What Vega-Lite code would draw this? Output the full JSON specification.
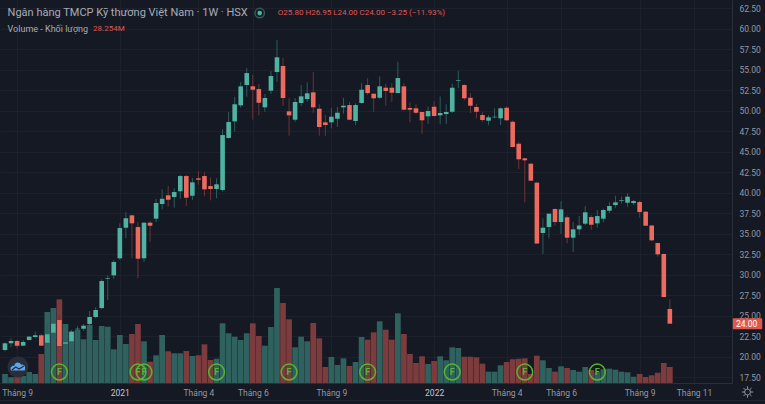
{"$schema":"https://vega.github.io/schema/vega-lite/v6.json","width":732,"height":383,"autosize":"none","padding":{"left":0,"top":0,"right":33,"bottom":21},"background":"#151924","config":{"view":{"stroke":null},"font":"Roboto","axis":{"labelOverlap":false}},
"datasets":{
"candles":[
{"date":"2020-08-24","open":20.79,"high":21.73,"low":20.63,"close":21.61,"volume":15.9,"dir":"up"},
{"date":"2020-08-31","open":21.61,"high":22.22,"low":21.12,"close":21.89,"volume":10.1,"dir":"up"},
{"date":"2020-09-07","open":21.89,"high":22.01,"low":21.00,"close":21.32,"volume":11.1,"dir":"down"},
{"date":"2020-09-14","open":21.32,"high":22.01,"low":21.28,"close":21.77,"volume":12.4,"dir":"up"},
{"date":"2020-09-21","open":22.01,"high":22.50,"low":21.98,"close":22.42,"volume":19.4,"dir":"up"},
{"date":"2020-09-28","open":22.38,"high":23.03,"low":22.29,"close":22.59,"volume":15.9,"dir":"up"},
{"date":"2020-10-05","open":22.59,"high":22.80,"low":21.28,"close":21.32,"volume":51.2,"dir":"down"},
{"date":"2020-10-12","open":21.68,"high":23.84,"low":21.20,"close":22.71,"volume":125.4,"dir":"up"},
{"date":"2020-10-19","open":22.90,"high":24.45,"low":22.26,"close":24.00,"volume":132.5,"dir":"up"},
{"date":"2020-10-26","open":24.45,"high":25.06,"low":21.16,"close":21.28,"volume":147.8,"dir":"down"},
{"date":"2020-11-02","open":21.56,"high":22.75,"low":21.28,"close":21.73,"volume":104.2,"dir":"up"},
{"date":"2020-11-09","open":21.85,"high":23.23,"low":21.68,"close":23.03,"volume":90.6,"dir":"up"},
{"date":"2020-11-16","open":23.32,"high":23.72,"low":22.90,"close":23.39,"volume":93.6,"dir":"up"},
{"date":"2020-11-23","open":23.39,"high":23.96,"low":23.15,"close":23.76,"volume":77.2,"dir":"up"},
{"date":"2020-11-30","open":23.96,"high":25.55,"low":23.84,"close":24.82,"volume":102.4,"dir":"up"},
{"date":"2020-12-07","open":24.82,"high":26.00,"low":24.66,"close":25.67,"volume":75.9,"dir":"up"},
{"date":"2020-12-14","open":25.91,"high":29.42,"low":25.76,"close":29.21,"volume":100.7,"dir":"up"},
{"date":"2020-12-21","open":29.49,"high":29.90,"low":26.89,"close":29.57,"volume":99.4,"dir":"up"},
{"date":"2020-12-28","open":29.90,"high":31.77,"low":29.49,"close":31.53,"volume":59.5,"dir":"up"},
{"date":"2021-01-04","open":31.98,"high":36.24,"low":31.77,"close":35.67,"volume":84.8,"dir":"up"},
{"date":"2021-01-11","open":35.71,"high":37.59,"low":34.45,"close":36.85,"volume":68.9,"dir":"up"},
{"date":"2021-01-18","open":37.22,"high":37.29,"low":31.98,"close":36.24,"volume":86.5,"dir":"down"},
{"date":"2021-01-25","open":35.79,"high":36.37,"low":29.57,"close":31.93,"volume":104.2,"dir":"down"},
{"date":"2021-02-01","open":31.98,"high":36.40,"low":31.53,"close":36.32,"volume":73.6,"dir":"up"},
{"date":"2021-02-08","open":36.32,"high":36.53,"low":33.96,"close":35.95,"volume":37.6,"dir":"down"},
{"date":"2021-02-15","open":36.81,"high":39.21,"low":36.40,"close":38.72,"volume":48.9,"dir":"up"},
{"date":"2021-02-22","open":38.60,"high":40.39,"low":37.95,"close":39.24,"volume":84.8,"dir":"up"},
{"date":"2021-03-01","open":39.66,"high":40.79,"low":38.27,"close":39.12,"volume":56,"dir":"down"},
{"date":"2021-03-08","open":39.45,"high":40.51,"low":38.15,"close":40.06,"volume":52.5,"dir":"up"},
{"date":"2021-03-15","open":40.15,"high":42.17,"low":39.24,"close":42.01,"volume":52.5,"dir":"up"},
{"date":"2021-03-22","open":42.01,"high":42.13,"low":38.35,"close":39.37,"volume":56.5,"dir":"down"},
{"date":"2021-03-29","open":39.61,"high":41.77,"low":39.09,"close":41.24,"volume":47.7,"dir":"up"},
{"date":"2021-04-05","open":41.73,"high":42.59,"low":40.95,"close":41.56,"volume":48.9,"dir":"down"},
{"date":"2021-04-12","open":42.01,"high":42.46,"low":39.57,"close":40.39,"volume":68.3,"dir":"down"},
{"date":"2021-04-19","open":40.79,"high":41.85,"low":39.05,"close":40.43,"volume":40.6,"dir":"down"},
{"date":"2021-04-26","open":40.43,"high":41.73,"low":39.29,"close":41.00,"volume":42.9,"dir":"up"},
{"date":"2021-05-03","open":40.31,"high":47.74,"low":40.10,"close":47.01,"volume":105.4,"dir":"up"},
{"date":"2021-05-10","open":46.65,"high":49.82,"low":46.61,"close":48.60,"volume":87.8,"dir":"up"},
{"date":"2021-05-17","open":48.68,"high":51.65,"low":47.42,"close":50.76,"volume":81.8,"dir":"up"},
{"date":"2021-05-24","open":50.63,"high":53.48,"low":50.34,"close":52.95,"volume":75.9,"dir":"up"},
{"date":"2021-05-31","open":53.11,"high":55.18,"low":51.68,"close":54.57,"volume":87.8,"dir":"up"},
{"date":"2021-06-07","open":52.95,"high":54.33,"low":48.88,"close":52.54,"volume":105.4,"dir":"down"},
{"date":"2021-06-14","open":52.62,"high":53.23,"low":49.41,"close":50.95,"volume":83,"dir":"down"},
{"date":"2021-06-21","open":50.39,"high":52.01,"low":49.85,"close":51.53,"volume":65.9,"dir":"up"},
{"date":"2021-06-28","open":52.42,"high":54.82,"low":52.01,"close":54.21,"volume":98.9,"dir":"up"},
{"date":"2021-07-05","open":54.70,"high":58.60,"low":53.51,"close":56.49,"volume":167.8,"dir":"up"},
{"date":"2021-07-12","open":55.43,"high":56.44,"low":50.55,"close":51.53,"volume":141.3,"dir":"down"},
{"date":"2021-07-19","open":49.90,"high":51.49,"low":46.93,"close":49.41,"volume":112.5,"dir":"down"},
{"date":"2021-07-26","open":48.88,"high":51.53,"low":48.60,"close":51.04,"volume":63,"dir":"up"},
{"date":"2021-08-02","open":50.92,"high":53.11,"low":50.55,"close":51.73,"volume":81.8,"dir":"up"},
{"date":"2021-08-09","open":51.40,"high":53.44,"low":51.04,"close":52.10,"volume":73.6,"dir":"up"},
{"date":"2021-08-16","open":52.22,"high":54.70,"low":49.73,"close":50.39,"volume":106,"dir":"down"},
{"date":"2021-08-23","open":50.22,"high":50.76,"low":46.93,"close":47.99,"volume":78.9,"dir":"down"},
{"date":"2021-08-30","open":48.56,"high":49.45,"low":46.93,"close":48.23,"volume":28.3,"dir":"down"},
{"date":"2021-09-06","open":48.56,"high":50.34,"low":47.83,"close":49.24,"volume":45.9,"dir":"up"},
{"date":"2021-09-13","open":49.00,"high":50.43,"low":47.99,"close":49.73,"volume":31.8,"dir":"up"},
{"date":"2021-09-20","open":50.39,"high":51.56,"low":49.61,"close":50.59,"volume":43.6,"dir":"up"},
{"date":"2021-09-27","open":50.67,"high":51.07,"low":48.81,"close":48.88,"volume":30,"dir":"down"},
{"date":"2021-10-04","open":48.72,"high":50.88,"low":48.23,"close":50.67,"volume":37.1,"dir":"up"},
{"date":"2021-10-11","open":50.92,"high":53.35,"low":50.83,"close":52.54,"volume":81.2,"dir":"up"},
{"date":"2021-10-18","open":53.11,"high":53.96,"low":51.89,"close":52.13,"volume":76.5,"dir":"down"},
{"date":"2021-10-25","open":52.05,"high":52.10,"low":49.85,"close":51.49,"volume":89.5,"dir":"down"},
{"date":"2021-11-01","open":51.56,"high":54.17,"low":51.40,"close":52.95,"volume":109,"dir":"up"},
{"date":"2021-11-08","open":52.78,"high":53.27,"low":50.59,"close":52.38,"volume":94.1,"dir":"down"},
{"date":"2021-11-15","open":52.78,"high":53.35,"low":51.07,"close":52.17,"volume":76.5,"dir":"down"},
{"date":"2021-11-22","open":52.13,"high":55.95,"low":52.13,"close":53.96,"volume":123.1,"dir":"up"},
{"date":"2021-11-29","open":52.95,"high":53.35,"low":50.03,"close":50.10,"volume":86.5,"dir":"down"},
{"date":"2021-12-06","open":50.31,"high":51.00,"low":48.56,"close":50.10,"volume":51.2,"dir":"down"},
{"date":"2021-12-13","open":50.27,"high":50.76,"low":49.61,"close":49.73,"volume":35.3,"dir":"down"},
{"date":"2021-12-20","open":49.82,"high":49.82,"low":47.17,"close":48.81,"volume":47.2,"dir":"down"},
{"date":"2021-12-27","open":49.29,"high":50.46,"low":48.39,"close":49.94,"volume":33.6,"dir":"up"},
{"date":"2022-01-03","open":50.46,"high":51.16,"low":49.29,"close":49.33,"volume":38.9,"dir":"down"},
{"date":"2022-01-10","open":49.41,"high":51.73,"low":48.32,"close":49.70,"volume":47.2,"dir":"up"},
{"date":"2022-01-17","open":49.57,"high":50.76,"low":48.35,"close":49.82,"volume":40.1,"dir":"up"},
{"date":"2022-01-24","open":49.85,"high":53.27,"low":49.70,"close":52.78,"volume":63,"dir":"up"},
{"date":"2022-01-31","open":53.60,"high":54.82,"low":52.71,"close":53.68,"volume":61.8,"dir":"up"},
{"date":"2022-02-07","open":53.11,"high":53.20,"low":51.24,"close":51.49,"volume":46.4,"dir":"down"},
{"date":"2022-02-14","open":51.56,"high":52.13,"low":49.70,"close":50.59,"volume":46.4,"dir":"down"},
{"date":"2022-02-21","open":50.43,"high":50.83,"low":49.05,"close":49.85,"volume":45.4,"dir":"down"},
{"date":"2022-02-28","open":49.45,"high":49.78,"low":48.60,"close":48.84,"volume":34.1,"dir":"down"},
{"date":"2022-03-07","open":48.76,"high":49.45,"low":48.23,"close":49.17,"volume":20,"dir":"up"},
{"date":"2022-03-14","open":49.17,"high":50.27,"low":49.05,"close":49.24,"volume":20,"dir":"up"},
{"date":"2022-03-21","open":49.05,"high":50.39,"low":48.23,"close":50.27,"volume":31.3,"dir":"up"},
{"date":"2022-03-28","open":50.34,"high":50.51,"low":48.72,"close":48.81,"volume":37.1,"dir":"down"},
{"date":"2022-04-04","open":48.64,"high":48.78,"low":45.51,"close":45.55,"volume":41.9,"dir":"down"},
{"date":"2022-04-11","open":45.95,"high":46.20,"low":42.87,"close":44.05,"volume":42.9,"dir":"down"},
{"date":"2022-04-18","open":44.17,"high":44.24,"low":38.80,"close":43.93,"volume":43.6,"dir":"down"},
{"date":"2022-04-25","open":43.51,"high":43.60,"low":41.40,"close":41.44,"volume":15.9,"dir":"down"},
{"date":"2022-05-02","open":41.20,"high":41.32,"low":33.72,"close":33.78,"volume":48.2,"dir":"down"},
{"date":"2022-05-09","open":35.06,"high":36.85,"low":32.50,"close":35.71,"volume":40.1,"dir":"up"},
{"date":"2022-05-16","open":35.79,"high":37.42,"low":34.42,"close":37.42,"volume":26.5,"dir":"up"},
{"date":"2022-05-23","open":37.99,"high":38.07,"low":35.95,"close":36.40,"volume":20,"dir":"down"},
{"date":"2022-05-30","open":36.40,"high":38.93,"low":34.94,"close":37.95,"volume":29.5,"dir":"up"},
{"date":"2022-06-06","open":36.98,"high":37.22,"low":33.80,"close":34.49,"volume":26.5,"dir":"down"},
{"date":"2022-06-13","open":34.49,"high":36.40,"low":32.74,"close":35.51,"volume":23,"dir":"up"},
{"date":"2022-06-20","open":35.51,"high":37.13,"low":34.82,"close":35.98,"volume":20,"dir":"up"},
{"date":"2022-06-27","open":36.20,"high":38.35,"low":36.04,"close":37.59,"volume":28.3,"dir":"up"},
{"date":"2022-07-04","open":37.01,"high":37.26,"low":35.46,"close":36.07,"volume":23,"dir":"down"},
{"date":"2022-07-11","open":36.24,"high":37.87,"low":35.71,"close":37.13,"volume":18.9,"dir":"up"},
{"date":"2022-07-18","open":36.81,"high":38.03,"low":36.37,"close":37.87,"volume":24.2,"dir":"up"},
{"date":"2022-07-25","open":37.78,"high":38.80,"low":37.50,"close":38.35,"volume":25.3,"dir":"up"},
{"date":"2022-08-01","open":38.48,"high":39.61,"low":38.15,"close":38.80,"volume":23.5,"dir":"up"},
{"date":"2022-08-08","open":38.96,"high":39.49,"low":38.68,"close":39.05,"volume":20,"dir":"up"},
{"date":"2022-08-15","open":38.76,"high":39.90,"low":38.27,"close":39.49,"volume":18.9,"dir":"up"},
{"date":"2022-08-22","open":38.72,"high":39.09,"low":38.48,"close":38.96,"volume":11.1,"dir":"up"},
{"date":"2022-08-29","open":38.84,"high":39.00,"low":36.93,"close":37.62,"volume":15.9,"dir":"down"},
{"date":"2022-09-05","open":37.66,"high":37.75,"low":35.92,"close":35.95,"volume":10.6,"dir":"down"},
{"date":"2022-09-12","open":35.98,"high":36.00,"low":34.05,"close":34.17,"volume":13.6,"dir":"down"},
{"date":"2022-09-19","open":33.84,"high":33.88,"low":32.17,"close":32.46,"volume":18.2,"dir":"down"},
{"date":"2022-09-26","open":32.50,"high":32.54,"low":27.22,"close":27.26,"volume":35.3,"dir":"down"},
{"date":"2022-10-03","open":25.80,"high":26.95,"low":24.00,"close":24.00,"volume":28.254,"dir":"down"}
],
"events":[{"date":"2020-10-26","level":18.11,"flag":"F"},{"date":"2021-01-25","level":18.11,"flag":"F"},{"date":"2021-02-01","level":18.11,"flag":"F"},{"date":"2021-04-26","level":18.11,"flag":"F"},{"date":"2021-07-19","level":18.11,"flag":"F"},{"date":"2021-10-18","level":18.11,"flag":"F"},{"date":"2022-01-24","level":18.11,"flag":"F"},{"date":"2022-04-18","level":18.11,"flag":"F"},{"date":"2022-07-11","level":18.11,"flag":"F"}],
"notes":[
{"date":"2020-08-27","level":61.89,"label":"Ngân hàng TMCP Kỹ thương Việt Nam · 1W · HSX","tone":"title"},
{"date":"2020-08-27","level":59.94,"label":"Volume - Khối lượng","tone":"sub"},
{"date":"2020-12-04","level":59.94,"label":"28.254M","tone":"red"},
{"date":"2021-07-06","level":61.89,"label":"O25.80 H26.95 L24.00 C24.00 −3.25 (−11.93%)","tone":"red"}
],
"dot":[{"date":"2021-06-15","level":61.89}],
"logo":[{"date":"2020-09-08","level":18.72}],
"footer":[{"level":14.65}],
"last":[{"start":"2022-12-15","end":"2023-01-18","centre":"2022-12-31","top":24.66,"bottom":23.32,"price":24.00,"text":"24.00"}],
"gear":[{"date":"2023-01-01","level":15.67}]
},
"encoding":{"x":{"field":"date","type":"temporal","scale":{"type":"utc","padding":0,"domain":[{"year":2020,"month":8,"date":18,"hours":5,"utc":true},{"year":2022,"month":12,"date":14,"utc":true}],"nice":false},"title":null,
"axis":{"tickCount":30,"values":[{"year":2020,"month":9,"date":7,"utc":true},{"year":2021,"month":1,"date":4,"utc":true},{"year":2021,"month":4,"date":5,"utc":true},{"year":2021,"month":6,"date":7,"utc":true},{"year":2021,"month":9,"date":6,"utc":true},{"year":2022,"month":1,"date":3,"utc":true},{"year":2022,"month":3,"date":28,"utc":true},{"year":2022,"month":5,"date":30,"utc":true},{"year":2022,"month":8,"date":29,"utc":true},{"year":2022,"month":10,"date":31,"utc":true}],
"labelExpr":"utcmonth(time(datum.value)+604800000)==0?''+utcyear(time(datum.value)+604800000):'Tháng '+(utcmonth(time(datum.value)+604800000)+1)",
"labelFontSize":8.5,"labelColor":{"condition":{"test":"utcmonth(time(datum.value)+604800000)==0","value":"#c4c7ce"},"value":"#9498a2"},"labelPadding":5,"ticks":false,"domain":true,"domainColor":"#2a2e39","grid":true,"gridColor":"#1d212c","gridWidth":1,"labelFlush":false,"labelBound":false}}},
"layer":[
{"data":{"name":"candles"},"mark":{"type":"bar","width":5.7},"encoding":{"y":{"field":"volume","type":"quantitative","scale":{"domain":[0,676.4],"nice":false},"axis":null},"color":{"condition":{"test":"datum.dir=='up'","value":"#2f625f"},"value":"#7c3b3c"}}},
{"layer":[
{"data":{"name":"candles"},"mark":{"type":"rule","strokeWidth":1},"encoding":{"y":{"field":"low","type":"quantitative","scale":{"domain":[16.77,63.48],"nice":false},"title":null,
"axis":{"orient":"right","tickCount":30,"values":[17.5,20,22.5,25,27.5,30,32.5,35,37.5,40,42.5,45,47.5,50,52.5,55,57.5,60,62.5],"format":".2f","labelFontSize":8.5,"labelColor":"#9498a2","labelPadding":7,"ticks":false,"domain":true,"domainColor":"#2a2e39","grid":true,"gridColor":"#1d212c","labelBound":false}},"y2":{"field":"high"},"color":{"condition":{"test":"datum.dir=='up'","value":"#2a5e5b"},"value":"#6b3434"}}},
{"data":{"name":"footer"},"mark":{"type":"rule","color":"#232732","strokeWidth":1},"encoding":{"x":{"value":0},"x2":{"value":765},"y":{"field":"level","type":"quantitative"}}},
{"data":{"name":"candles"},"mark":{"type":"bar","width":4.6},"encoding":{"y":{"field":"open","type":"quantitative"},"y2":{"field":"close"},"color":{"condition":{"test":"datum.dir=='up'","value":"#50b2a2"},"value":"#ec6a5e"}}},
{"data":{"name":"candles"},"transform":[{"filter":"datum.date=='2022-10-03'"}],"mark":{"type":"rule","color":"#ef5350","opacity":0.35,"strokeWidth":1},"encoding":{"x":{"value":0},"x2":{"value":732},"y":{"field":"close","type":"quantitative"}}},
{"data":{"name":"events"},"mark":{"type":"point","filled":false,"stroke":"#58b52e","strokeWidth":1.5,"size":250,"shape":"circle","opacity":1},"encoding":{"y":{"field":"level","type":"quantitative"}}},
{"data":{"name":"events"},"mark":{"type":"text","color":"#58b52e","fontSize":9,"fontWeight":"bold","align":"center","baseline":"middle"},"encoding":{"y":{"field":"level","type":"quantitative"},"text":{"field":"flag"}}},
{"data":{"name":"logo"},"mark":{"type":"point","filled":true,"fill":"#2a2e39","stroke":null,"size":441,"shape":"circle","opacity":1},"encoding":{"y":{"field":"level","type":"quantitative"}}},
{"data":{"name":"logo"},"mark":{"type":"point","filled":true,"fill":"#5aa9ee","stroke":null,"size":225,"opacity":1,"shape":"M-0.9,0.45C-1.15,0.15 -0.85,-0.2 -0.5,-0.15C-0.4,-0.65 0.2,-0.75 0.42,-0.3C0.8,-0.42 1.12,0 0.9,0.45Z"},"encoding":{"y":{"field":"level","type":"quantitative"}}},
{"data":{"name":"logo"},"mark":{"type":"point","filled":false,"stroke":"#2a2e39","strokeWidth":1.2,"size":225,"opacity":1,"shape":"M-0.8,0.4L-0.3,0L0.15,0.28L0.8,-0.15"},"encoding":{"y":{"field":"level","type":"quantitative"}}},
{"data":{"name":"notes"},"mark":{"type":"text","align":"left","baseline":"middle"},"encoding":{"y":{"field":"level","type":"quantitative"},"text":{"field":"label"},"size":{"condition":[{"test":"datum.tone=='title'","value":11},{"test":"datum.tone=='sub'","value":9}],"value":8},"color":{"condition":{"test":"datum.tone=='red'","value":"#e0574f"},"value":"#a9acb5"}}},
{"data":{"name":"dot"},"mark":{"type":"point","filled":false,"stroke":"#2a5e5b","strokeWidth":1.5,"size":90,"shape":"circle","opacity":1},"encoding":{"y":{"field":"level","type":"quantitative"}}},
{"data":{"name":"dot"},"mark":{"type":"point","filled":true,"fill":"#50b2a2","stroke":null,"size":22,"opacity":1,"shape":"circle"},"encoding":{"y":{"field":"level","type":"quantitative"}}},
{"data":{"name":"last"},"mark":{"type":"bar","color":"#e0574f","cornerRadius":1},"encoding":{"x":{"field":"start","type":"temporal"},"x2":{"field":"end"},"y":{"field":"top","type":"quantitative"},"y2":{"field":"bottom"}}},
{"data":{"name":"last"},"mark":{"type":"text","color":"#ffffff","fontSize":8.5,"align":"center","baseline":"middle"},"encoding":{"x":{"field":"centre","type":"temporal"},"y":{"field":"price","type":"quantitative"},"text":{"field":"text"}}},
{"data":{"name":"gear"},"mark":{"type":"point","filled":false,"stroke":"#9498a2","strokeWidth":1,"size":130,"opacity":1,"shape":"M-0.5,0A0.5,0.5 0 1,0 0.5,0A0.5,0.5 0 1,0 -0.5,0M0,-0.5L0,-1M0,0.5L0,1M-0.5,0L-1,0M0.5,0L1,0M-0.36,-0.36L-0.7,-0.7M0.36,0.36L0.7,0.7M-0.36,0.36L-0.7,0.7M0.36,-0.36L0.7,-0.7"},"encoding":{"y":{"field":"level","type":"quantitative"}}}
]}
],
"resolve":{"scale":{"y":"independent"},"axis":{"y":"independent"}}}
